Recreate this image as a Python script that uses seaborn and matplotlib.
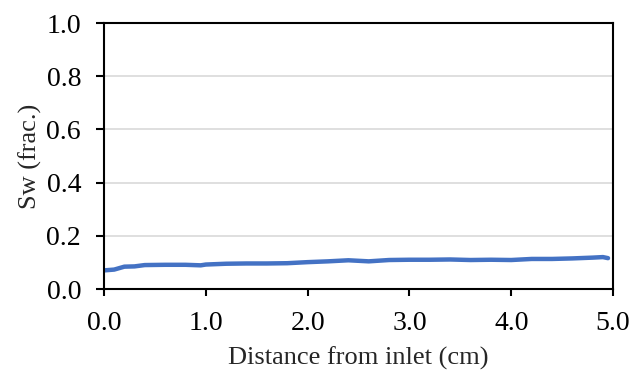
import matplotlib
matplotlib.use("Agg")
import matplotlib.pyplot as plt
import seaborn as sns
import pandas as pd

distance = [0.0, 0.1, 0.2, 0.3, 0.4, 0.6, 0.8, 0.95, 1.0, 1.2, 1.4, 1.6, 1.8, 2.0,
            2.2, 2.4, 2.6, 2.8, 3.0, 3.2, 3.4, 3.6, 3.8, 4.0, 4.2, 4.4, 4.6, 4.8, 4.9, 4.95]
sw = [0.070, 0.073, 0.084, 0.085, 0.090, 0.091, 0.091, 0.089, 0.092, 0.095, 0.096, 0.096,
      0.097, 0.101, 0.104, 0.108, 0.104, 0.109, 0.110, 0.110, 0.111, 0.109, 0.110, 0.109,
      0.113, 0.113, 0.115, 0.118, 0.120, 0.116]
x_ticks = [0.0, 1.0, 2.0, 3.0, 4.0, 5.0]
y_ticks = [0.0, 0.2, 0.4, 0.6, 0.8, 1.0]

df = pd.DataFrame({"Distance": distance, "Sw": sw})

sns.set_style("white")
plt.rcParams["font.family"] = ["Liberation Serif", "DejaVu Serif"]

fig = plt.figure(figsize=(6.38, 3.71), dpi=100)
ax = fig.add_axes([0.163, 0.221, 0.798, 0.717])
sns.lineplot(data=df, x="Distance", y="Sw", ax=ax, color="#4472C4", linewidth=3.2)

ax.set_xlim(0, 5)
ax.set_ylim(0, 1)
ax.set_xticks(x_ticks)
ax.set_yticks(y_ticks)
ax.set_xticklabels([f"{v:.1f}" for v in x_ticks], fontsize=20)
ax.set_yticklabels([f"{v:.1f}" for v in y_ticks], fontsize=20)
ax.set_xlabel("Distance from inlet (cm)", fontsize=19, labelpad=8)
ax.set_ylabel("Sw (frac.)", fontsize=19, labelpad=3)
ax.yaxis.grid(True, color="#d9d9d9", linewidth=1.2)
ax.xaxis.grid(False)
for s in ax.spines.values():
    s.set_color("black")
    s.set_linewidth(1.5)
ax.tick_params(axis="both", which="both", direction="out", width=1.5,
               color="black", bottom=True, left=True, labelcolor="black")
ax.tick_params(axis="x", length=5, pad=10.5)
ax.tick_params(axis="y", length=5.5, pad=11)
fig.savefig("out.png", dpi=100, facecolor="white")
